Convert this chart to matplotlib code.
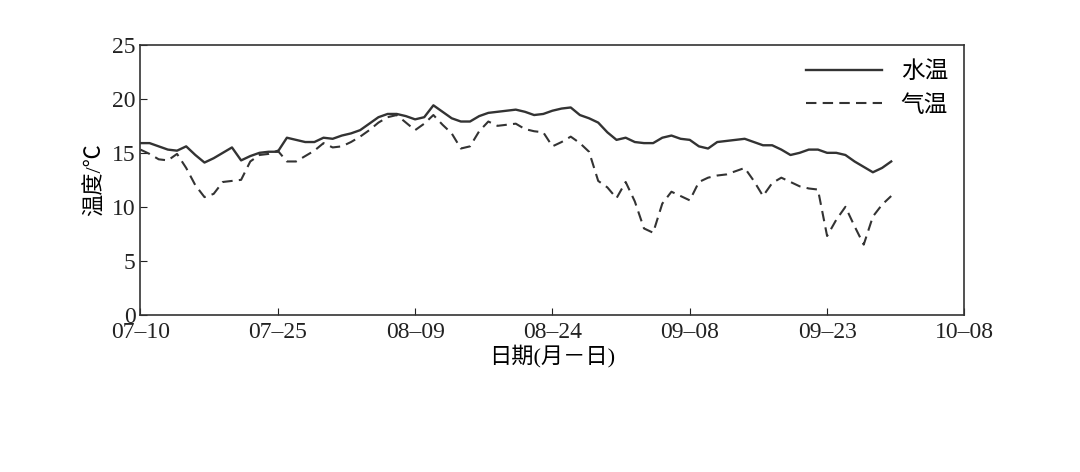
import matplotlib

matplotlib.use("Agg")
import matplotlib.pyplot as plt
import numpy as np

plt.rcParams["font.family"] = ["Liberation Serif", "Noto Sans CJK SC"]

# 07-10 起算の日数ごとの値
water_temp = [15.9, 15.9, 15.6, 15.3, 15.2, 15.6, 14.8, 14.1, 14.5, 15.0, 15.5, 14.3, 14.7, 15.0, 15.1, 15.1,
              16.4, 16.2, 16.0, 16.0, 16.4, 16.3, 16.6, 16.8, 17.1, 17.7, 18.3, 18.6, 18.6, 18.4, 18.1, 18.3,
              19.4, 18.8, 18.2, 17.9, 17.9, 18.4, 18.7, 18.8, 18.9, 19.0, 18.8, 18.5, 18.6, 18.9, 19.1, 19.2,
              18.5, 18.2, 17.8, 16.9, 16.2, 16.4, 16.0, 15.9, 15.9, 16.4, 16.6, 16.3, 16.2, 15.6, 15.4, 16.0,
              16.1, 16.2, 16.3, 16.0, 15.7, 15.7, 15.3, 14.8, 15.0, 15.3, 15.3, 15.0, 15.0, 14.8, 14.2, 13.7,
              13.2, 13.6, 14.2]
air_temp = [15.3, 14.9, 14.4, 14.3, 14.9, 13.6, 12.0, 10.9, 11.2, 12.3, 12.4, 12.5, 14.2, 14.8, 14.9, 15.2,
            14.2, 14.2, 14.7, 15.2, 15.9, 15.5, 15.6, 16.0, 16.5, 17.1, 17.8, 18.3, 18.5, 17.8, 17.1, 17.7,
            18.5, 17.6, 16.8, 15.4, 15.6, 17.0, 17.9, 17.5, 17.6, 17.7, 17.2, 17.0, 16.9, 15.6, 16.0, 16.5,
            15.9, 15.1, 12.4, 11.8, 10.8, 12.3, 10.5, 8.0, 7.6, 10.3, 11.4, 11.0, 10.6, 12.3, 12.7, 12.9,
            13.0, 13.3, 13.6, 12.4, 11.0, 12.2, 12.7, 12.3, 11.9, 11.7, 11.6, 7.3, 8.8, 10.0, 8.2, 6.5,
            9.1, 10.2, 11.0]
tick_days = [0, 15, 30, 45, 60, 75, 90]
tick_labels = ["07–10", "07–25", "08–09", "08–24", "09–08", "09–23", "10–08"]

days = np.arange(len(water_temp))

fig = plt.figure(figsize=(10.8, 4.72), dpi=100)
ax = fig.add_axes([0.13, 0.333, 0.763, 0.572])
ax.plot(days, water_temp, color="#333333", lw=1.7, label="水温")
ax.plot(days, air_temp, color="#333333", lw=1.5, ls=(0, (5, 3)), label="气温")

ax.set_xlim(0, 90)
ax.set_ylim(0, 25)
ax.set_xticks(tick_days)
ax.set_xticklabels(tick_labels, fontsize=17)
ax.set_yticks([0, 5, 10, 15, 20, 25])
ax.tick_params(labelsize=17, direction="in", length=5, colors="#222222")
ax.tick_params(axis="x", pad=5)
ax.set_xlabel("日期(月－日)", fontsize=16, labelpad=1)
ax.set_ylabel("温度/℃", fontsize=16, labelpad=4)
for s in ax.spines.values():
    s.set_color("#333333")
    s.set_linewidth(1.2)
ax.legend(loc="upper right", frameon=False, fontsize=17, handlelength=3.2, borderaxespad=0.3)

fig.savefig("out.png", dpi=100)
